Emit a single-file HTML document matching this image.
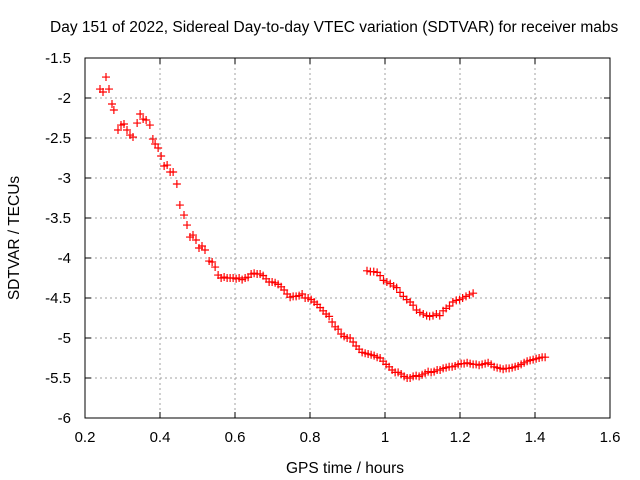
<!DOCTYPE html>
<html><head><meta charset="utf-8"><style>
body{margin:0;background:#fff}
svg{display:block;font-family:"Liberation Sans",sans-serif}
</style></head><body>
<svg id="chart" width="640" height="480" xmlns="http://www.w3.org/2000/svg">
<rect width="640" height="480" fill="#fff"/>
<text x="50" y="32" font-size="15.5" fill="#000">Day 151 of 2022, Sidereal Day-to-day VTEC variation (SDTVAR) for receiver mabs</text>
<g id="grid"></g>
<g id="axes"></g>
<g id="marks"></g>
<text x="345" y="473" font-size="15.5" text-anchor="middle">GPS time / hours</text>
<text transform="translate(19,238) rotate(-90)" font-size="15.5" text-anchor="middle">SDTVAR / TECUs</text>
</svg>
<script>
const xTicks=[0.2,0.4,0.6,0.8,1,1.2,1.4,1.6];
const xTickLabels=["0.2","0.4","0.6","0.8","1","1.2","1.4","1.6"];
const yTicks=[-1.5,-2,-2.5,-3,-3.5,-4,-4.5,-5,-5.5,-6];
const yTickLabels=["-1.5","-2","-2.5","-3","-3.5","-4","-4.5","-5","-5.5","-6"];
const mainX=[0.240,0.248,0.256,0.264,0.272,0.277,0.288,0.296,0.304,0.312,0.320,0.328,0.339,0.347,0.355,0.363,0.373,0.381,0.387,0.395,0.403,0.411,0.419,0.427,0.435,0.445,0.453,0.464,0.472,0.480,0.488,0.496,0.504,0.512,0.520,0.531,0.539,0.547,0.555,0.563,0.571,0.579,0.587,0.595,0.603,0.611,0.619,0.627,0.635,0.643,0.651,0.659,0.667,0.675,0.683,0.691,0.699,0.707,0.715,0.723,0.731,0.739,0.747,0.755,0.763,0.771,0.779,0.787,0.795,0.803,0.811,0.819,0.827,0.835,0.843,0.851,0.859,0.867,0.875,0.883,0.891,0.899,0.907,0.915,0.923,0.931,0.939,0.947,0.955,0.963,0.971,0.979,0.987,0.995,1.003,1.011,1.019,1.027,1.035,1.043,1.051,1.059,1.067,1.075,1.083,1.091,1.099,1.107,1.115,1.123,1.131,1.139,1.147,1.155,1.163,1.171,1.179,1.187,1.195,1.203,1.211,1.219,1.227,1.235,1.243,1.251,1.259,1.267,1.275,1.283,1.291,1.299,1.307,1.315,1.323,1.331,1.339,1.347,1.355,1.363,1.371,1.379,1.387,1.395,1.403,1.411,1.419,1.427];
const mainY=[-1.888,-1.925,-1.738,-1.888,-2.075,-2.15,-2.40,-2.338,-2.325,-2.40,-2.463,-2.488,-2.313,-2.20,-2.263,-2.275,-2.338,-2.513,-2.575,-2.625,-2.725,-2.85,-2.838,-2.925,-2.925,-3.075,-3.338,-3.463,-3.588,-3.738,-3.713,-3.775,-3.875,-3.85,-3.90,-4.038,-4.05,-4.113,-4.213,-4.25,-4.238,-4.25,-4.25,-4.25,-4.26,-4.25,-4.27,-4.25,-4.24,-4.20,-4.19,-4.20,-4.20,-4.22,-4.26,-4.30,-4.30,-4.31,-4.33,-4.36,-4.40,-4.45,-4.49,-4.48,-4.48,-4.47,-4.45,-4.50,-4.50,-4.52,-4.55,-4.58,-4.62,-4.66,-4.70,-4.73,-4.80,-4.86,-4.89,-4.95,-4.98,-5.00,-5.00,-5.05,-5.10,-5.14,-5.18,-5.19,-5.20,-5.21,-5.22,-5.24,-5.25,-5.29,-5.33,-5.36,-5.40,-5.43,-5.43,-5.45,-5.48,-5.50,-5.50,-5.48,-5.47,-5.48,-5.46,-5.44,-5.42,-5.43,-5.42,-5.40,-5.40,-5.38,-5.37,-5.36,-5.36,-5.35,-5.33,-5.32,-5.32,-5.31,-5.32,-5.33,-5.33,-5.34,-5.33,-5.32,-5.31,-5.33,-5.36,-5.37,-5.38,-5.39,-5.38,-5.38,-5.37,-5.36,-5.35,-5.33,-5.31,-5.29,-5.28,-5.27,-5.26,-5.25,-5.24,-5.24];
const upperX=[0.952,0.961,0.970,0.979,0.987,0.996,1.005,1.014,1.023,1.031,1.040,1.049,1.058,1.067,1.075,1.084,1.093,1.102,1.111,1.119,1.128,1.137,1.146,1.155,1.163,1.172,1.181,1.190,1.199,1.207,1.216,1.225,1.235];
const upperY=[-4.16,-4.17,-4.17,-4.18,-4.22,-4.28,-4.30,-4.32,-4.35,-4.37,-4.43,-4.48,-4.52,-4.55,-4.59,-4.65,-4.68,-4.70,-4.72,-4.73,-4.72,-4.70,-4.72,-4.66,-4.63,-4.60,-4.55,-4.53,-4.52,-4.50,-4.48,-4.46,-4.44];

const L=85,R=610,T=58,B=418;
const sx=v=>L+(v-0.2)/1.4*(R-L);
const sy=v=>T+(-1.5-v)/4.5*(B-T);
const NS="http://www.w3.org/2000/svg";
function mk(tag,attrs,parent){const e=document.createElementNS(NS,tag);for(const k in attrs)e.setAttribute(k,attrs[k]);parent.appendChild(e);return e;}
const grid=document.getElementById('grid'),axes=document.getElementById('axes'),marks=document.getElementById('marks');

xTicks.forEach((t,i)=>{const x=sx(t);
 if(i>0&&i<xTicks.length-1){const g=mk('line',{x1:x,x2:x,y1:T,y2:B,stroke:'#a0a0a0','stroke-dasharray':'2,3'},grid);
 
 }
 mk('line',{x1:x,x2:x,y1:B,y2:B-6,stroke:'#000'},axes);
 mk('line',{x1:x,x2:x,y1:T,y2:T+6,stroke:'#000'},axes);
 const tx=mk('text',{x:x,y:B+24,'font-size':15,'text-anchor':'middle'},axes);tx.textContent=xTickLabels[i];
 
 
});
yTicks.forEach((t,i)=>{const y=sy(t);
 if(i>0&&i<yTicks.length-1){const g=mk('line',{x1:L,x2:R,y1:y,y2:y,stroke:'#a0a0a0','stroke-dasharray':'2,3'},grid);
 
 }
 mk('line',{x1:L,x2:L+6,y1:y,y2:y,stroke:'#000'},axes);
 mk('line',{x1:R,x2:R-6,y1:y,y2:y,stroke:'#000'},axes);
 const tx=mk('text',{x:L-14,y:y+5,'font-size':15,'text-anchor':'end'},axes);tx.textContent=yTickLabels[i];
 
 
});
mk('rect',{x:L,y:T,width:R-L,height:B-T,fill:'none',stroke:'#000'},axes);

function plot(xs,ys,name){xs.forEach((xv,i)=>{const x=sx(xv),y=sy(ys[i]);
 const p=mk('path',{d:`M${x-4},${y}H${x+4}M${x},${y-4}V${y+4}`,stroke:'#f00','stroke-width':1.2,fill:'none'},marks);
 
 
});}
plot(mainX,mainY,'main-series-point');
plot(upperX,upperY,'upper-series-point');
</script>
</body></html>
